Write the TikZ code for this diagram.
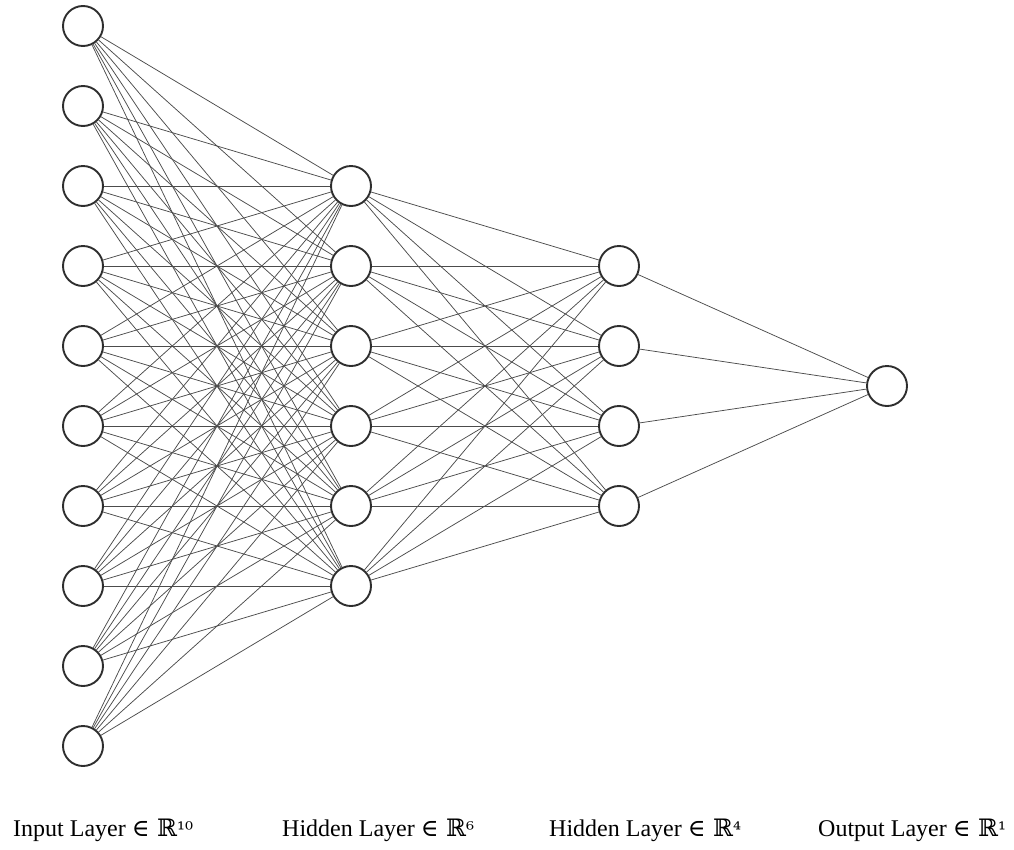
\documentclass[tikz,border=0pt]{standalone}
\usepackage{fontspec}
\setmainfont{Liberation Serif}
\newfontfamily\symfont{DejaVu Serif}
\usetikzlibrary{positioning}

\tikzset{
  neuron/.style={circle,draw=black!82,line width=1.9pt,fill=white,minimum size=40pt,inner sep=0pt},
  synapse/.style={draw=black!70,line width=0.75pt},
  layerlabel/.style={anchor=base west,inner sep=0pt,font=\fontsize{24}{28}\selectfont}
}

\begin{document}
\begin{tikzpicture}[x=1pt,y=-1pt]
\useasboundingbox (0,0) rectangle (1014,849);
% neurons
\foreach \i in {1,...,10} \node[neuron] (I\i) at (83,{386+80*(\i-5.5)}) {};
\foreach \j in {1,...,6} \node[neuron] (H\j) at (351,{386+80*(\j-3.5)}) {};
\foreach \k in {1,...,4} \node[neuron] (G\k) at (619,{386+80*(\k-2.5)}) {};
\node[neuron] (O1) at (887,386) {};
% connections
\foreach \i in {1,...,10} \foreach \j in {1,...,6} \draw[synapse] (I\i)--(H\j);
\foreach \j in {1,...,6} \foreach \k in {1,...,4} \draw[synapse] (H\j)--(G\k);
\foreach \k in {1,...,4} \draw[synapse] (G\k)--(O1);
% labels
\node[layerlabel] (Lin) at (13,836) {Input Layer {\symfont ∈ ℝ{\fontsize{20}{24}\selectfont ¹⁰}}};
\node[layerlabel] (Lh1) at (282,836) {Hidden Layer {\symfont ∈ ℝ{\fontsize{20}{24}\selectfont ⁶}}};
\node[layerlabel] (Lh2) at (549,836) {Hidden Layer {\symfont ∈ ℝ{\fontsize{20}{24}\selectfont ⁴}}};
\node[layerlabel] (Lout) at (818,836) {Output Layer {\symfont ∈ ℝ{\fontsize{20}{24}\selectfont ¹}}};
\end{tikzpicture}
\end{document}
